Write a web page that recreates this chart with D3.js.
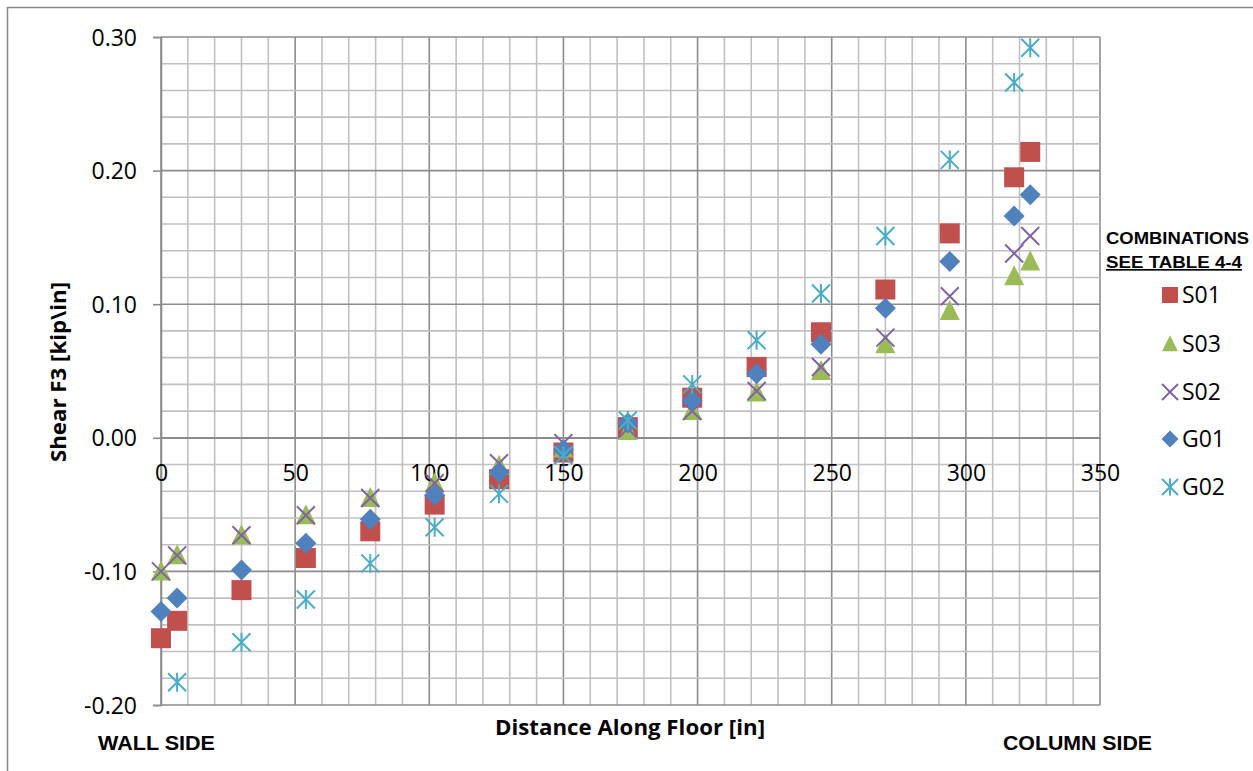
<!DOCTYPE html>
<html><head><meta charset="utf-8">
<script src="https://cdn.jsdelivr.net/npm/d3@7"></script>
<style>body{margin:0;background:#fff;}svg{display:block;}</style>
</head><body>
<svg id="c" width="1253" height="771"></svg>
<script>
const xPos = [0, 6, 30, 54, 78, 102, 126, 150, 174, 198, 222, 246, 270, 294, 318, 324];
const S01 = [-0.150, -0.137, -0.114, -0.090, -0.070, -0.050, -0.031, -0.011, 0.008, 0.030, 0.053, 0.079, 0.111, 0.153, 0.195, 0.214];
const S03 = [-0.100, -0.088, -0.073, -0.058, -0.045, -0.034, -0.021, -0.008, 0.005, 0.020, 0.034, 0.050, 0.070, 0.095, 0.121, 0.132];
const S02 = [-0.100, -0.088, -0.073, -0.058, -0.045, -0.034, -0.019, -0.004, 0.007, 0.020, 0.035, 0.053, 0.075, 0.106, 0.138, 0.151];
const G01 = [-0.130, -0.120, -0.099, -0.079, -0.061, -0.043, -0.026, -0.009, 0.011, 0.028, 0.048, 0.070, 0.097, 0.132, 0.166, 0.182];
const G02 = [null, -0.183, -0.153, -0.121, -0.094, -0.067, -0.042, -0.013, 0.013, 0.040, 0.073, 0.108, 0.151, 0.208, 0.266, 0.292];
const xTicks = [0, 50, 100, 150, 200, 250, 300, 350];
const yTicks = [-0.20, -0.10, 0.00, 0.10, 0.20, 0.30];
const seriesNames = ["S01", "S03", "S02", "G01", "G02"];

const series = [
  {name: "S01", values: S01, color: "#C0504D", shape: "square"},
  {name: "S03", values: S03, color: "#9BBB59", shape: "triangle"},
  {name: "S02", values: S02, color: "#8064A2", shape: "x"},
  {name: "G01", values: G01, color: "#4F81BD", shape: "diamond"},
  {name: "G02", values: G02, color: "#4BACC6", shape: "star"}
];

const svg = d3.select("#c");
const L = 161, R = 1100, T = 37, B = 705;
const x = d3.scaleLinear().domain([0, 350]).range([L, R]);
const y = d3.scaleLinear().domain([-0.2, 0.3]).range([B, T]);
const font = "'Open Sans', sans-serif";
const arial = "'Liberation Sans', Arial, sans-serif";

svg.append("rect").attr("x", 7.5).attr("y", 7.5).attr("width", 1300).attr("height", 800)
  .attr("fill", "none").attr("stroke", "#888").attr("stroke-width", 1.5);

const g = svg.append("g");
const xMinor = d3.range(0, 351, 10);
const yMinor = d3.range(-0.2, 0.3001, 0.02);
g.selectAll(".vx").data(xMinor).enter().append("line")
  .attr("x1", d => x(d)).attr("x2", d => x(d)).attr("y1", T).attr("y2", B)
  .attr("stroke", d => (d % 50 === 0) ? "#8c8c8c" : "#c0c0c0").attr("stroke-width", 1.6);
g.selectAll(".hy").data(yMinor).enter().append("line")
  .attr("y1", d => y(d)).attr("y2", d => y(d)).attr("x1", L).attr("x2", R)
  .attr("stroke", d => (Math.abs(Math.round(d*100)) % 10 === 0) ? "#8c8c8c" : "#c0c0c0").attr("stroke-width", 1.6);

const fmt = d => d3.format(".2f")(d).replace("\u2212", "-");
const yAxis = d3.axisLeft(y).tickValues(yTicks).tickFormat(fmt).tickSize(8);
const ya = svg.append("g").attr("transform", `translate(${L},0)`).call(yAxis);
ya.select(".domain").attr("stroke", "#8c8c8c").attr("stroke-width", 1.6);
ya.selectAll(".tick line").attr("stroke", "#8c8c8c").attr("stroke-width", 1.6);
ya.selectAll(".tick text").attr("font-family", font).attr("font-size", 23).attr("fill", "#000")
  .attr("x", -24).attr("dy", "0.35em");

const xAxis = d3.axisBottom(x).tickValues(xTicks).tickFormat(d3.format("d")).tickSize(0);
const xa = svg.append("g").attr("transform", `translate(0,${y(0)})`).call(xAxis);
xa.select(".domain").attr("stroke", "#8c8c8c").attr("stroke-width", 1.6);
xa.selectAll(".tick text").attr("font-family", font).attr("font-size", 23).attr("fill", "#000")
  .attr("dy", "0").attr("y", 43);

function drawMarker(sel, shape, color, s) {
  if (shape === "square") {
    sel.append("rect").attr("x", -s/2).attr("y", -s/2).attr("width", s).attr("height", s).attr("fill", color);
  } else if (shape === "triangle") {
    sel.append("path").attr("d", `M0,${-s*0.55}L${s*0.5},${s*0.45}L${-s*0.5},${s*0.45}Z`).attr("fill", color);
  } else if (shape === "diamond") {
    const h = s*0.5;
    sel.append("path").attr("d", `M0,${-h}L${h},0L0,${h}L${-h},0Z`).attr("fill", color);
  } else if (shape === "x") {
    const h = s*0.5;
    sel.append("path").attr("d", `M${-h},${-h}L${h},${h}M${-h},${h}L${h},${-h}`).attr("stroke", color).attr("stroke-width", 2).attr("fill", "none");
  } else if (shape === "star") {
    const h = s*0.5;
    sel.append("path").attr("d", `M${-h},${-h}L${h},${h}M${-h},${h}L${h},${-h}M0,${-h*1.05}L0,${h*1.05}`).attr("stroke", color).attr("stroke-width", 2).attr("fill", "none");
  }
}

series.forEach(sr => {
  const pts = xPos.map((xv, i) => ({x: xv, y: sr.values[i]})).filter(d => d.y !== null);
  const gg = svg.append("g");
  pts.forEach(p => {
    const m = gg.append("g").attr("transform", `translate(${x(p.x)},${y(p.y)})`);
    drawMarker(m, sr.shape, sr.color, sr.shape === "diamond" ? 21 : (sr.shape === "x" || sr.shape === "star") ? 18 : 20);
  });
});

svg.append("text").attr("transform", `translate(66,372) rotate(-90)`).attr("text-anchor", "middle")
  .attr("font-family", font).attr("font-weight", "bold").attr("font-size", 21)
  .attr("textLength", 180).attr("lengthAdjust", "spacingAndGlyphs").text("Shear F3 [kip\\in]");
svg.append("text").attr("x", 630).attr("y", 735).attr("text-anchor", "middle")
  .attr("font-family", font).attr("font-weight", "bold").attr("font-size", 21)
  .attr("textLength", 270).attr("lengthAdjust", "spacingAndGlyphs").text("Distance Along Floor [in]");
svg.append("text").attr("x", 98).attr("y", 750)
  .attr("font-family", arial).attr("font-weight", "bold").attr("font-size", 21)
  .attr("textLength", 117).attr("lengthAdjust", "spacingAndGlyphs").text("WALL SIDE");
svg.append("text").attr("x", 1003).attr("y", 750)
  .attr("font-family", arial).attr("font-weight", "bold").attr("font-size", 21)
  .attr("textLength", 149).attr("lengthAdjust", "spacingAndGlyphs").text("COLUMN SIDE");

svg.append("text").attr("x", 1106).attr("y", 244)
  .attr("font-family", arial).attr("font-weight", "bold").attr("font-size", 16.5)
  .attr("textLength", 143).attr("lengthAdjust", "spacingAndGlyphs").text("COMBINATIONS");
svg.append("text").attr("x", 1106).attr("y", 268).attr("text-decoration", "underline")
  .attr("font-family", arial).attr("font-weight", "bold").attr("font-size", 16.5)
  .attr("textLength", 136).attr("lengthAdjust", "spacingAndGlyphs").text("SEE TABLE 4-4");
const legY = [295, 344, 392, 439, 487];
series.forEach((sr, i) => {
  const m = svg.append("g").attr("transform", `translate(1170,${legY[i]})`);
  drawMarker(m, sr.shape, sr.color, sr.shape === "diamond" ? 17 : 16);
  svg.append("text").attr("x", 1182).attr("y", legY[i]).attr("dy", "0.35em")
    .attr("font-family", font).attr("font-size", 23).text(seriesNames[i]);
});
</script>
</body></html>
